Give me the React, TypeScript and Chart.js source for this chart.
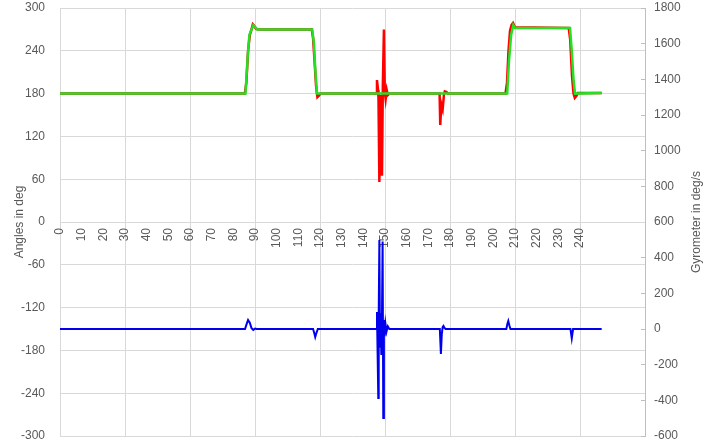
import React, { useEffect, useRef } from "react";
import { Chart, registerables } from "chart.js";

Chart.register(...registerables);

// ---- data ----
const LEFT_TITLE = "Angles in deg";
const RIGHT_TITLE = "Gyrometer in deg/s";

const xMin = 0;
const xMax = 270;
const xLabelStep = 10;
const xLabelLast = 240;
const xGridEvery = 30;

const leftMin = -300;
const leftMax = 300;
const leftStep = 60;
const rightMin = -600;
const rightMax = 1800;
const rightStep = 200;

// Red angle series
const redT = [0, 85.3, 86.0, 86.8, 87.6, 88.4, 89.0, 89.6, 90.4, 91.5, 116.2, 116.8, 117.6, 118.2, 118.8, 119.5, 120.2,
  146.0, 146.3, 146.8, 147.0, 147.4, 147.8, 148.2, 148.6, 149.0, 149.5, 149.9, 150.3, 150.8, 151.3, 152.0,
  175.2, 175.5, 176.0, 176.6, 177.2, 177.6, 178.4, 179.0,
  205.6, 206.3, 207.0, 207.7, 208.4, 209.1, 210.0, 234.8, 235.5, 236.3, 237.0, 237.6, 238.4, 239.0, 250.0];
const redV = [180, 180, 195, 240, 262, 270, 277, 275, 271, 270, 270, 258, 220, 190, 175, 177, 180,
  180, 199, 185, 172, 56, 178, 170, 65, 190, 270, 182, 172, 185, 178, 180,
  180, 136, 165, 158, 178, 183, 182, 180,
  180, 195, 240, 268, 276, 279, 273, 272, 255, 205, 180, 174, 177, 181, 181];

// Green angle series
const greenT = [0, 85.6, 86.6, 87.4, 88.2, 89.2, 90.2, 91.0, 116.4, 117.2, 117.8, 118.6,
  206.4, 207.2, 208.2, 209.2, 210.0, 235.4, 236.2, 237.0, 237.7, 250.0];
const greenV = [180, 180, 230, 262, 268, 276, 273, 270, 270, 250, 215, 180,
  180, 225, 262, 276, 272, 272, 240, 200, 180, 181];

// Blue gyrometer series
const blueT = [0, 85.4, 86.2, 86.8, 87.6, 88.4, 89.2, 90.0, 90.8, 116.8, 117.4, 117.8, 118.4, 119.0,
  146.0, 146.3, 146.6, 146.9, 147.1, 147.4, 147.7, 148.0, 148.3, 148.6, 148.9, 149.2, 149.5, 149.8, 150.2, 150.7, 151.3, 152.0,
  175.3, 175.8, 176.2, 176.6, 177.0, 177.5, 178.0,
  206.0, 206.5, 206.9, 207.4, 207.9, 235.6, 236.2, 236.8, 250.0];
const blueV = [0, 0, 30, 50, 35, 5, -5, 2, 0, 0, -25, -45, -20, 0,
  0, 95, -146, -387, 80, 499, -100, 90, -140, 60, 490, -499, 50, -40, 30, -15, 15, 0,
  0, -140, -30, 10, 17, 5, 0,
  0, 30, 45, 20, 0, 0, -52, 0, 0];

const pts = (t: number[], v: number[]) => t.map((x, i) => ({ x, y: v[i] }));

const FONT = '"Liberation Sans", Arial, sans-serif';
const TEXT = "#595959";
const GRID = "#d9d9d9";

const rightTitlePlugin = {
  id: "rightTitle",
  afterDraw(chart: any) {
    const { ctx, chartArea } = chart;
    ctx.save();
    ctx.translate(chart.width - 9, (chartArea.top + chartArea.bottom) / 2);
    ctx.rotate(-Math.PI / 2);
    ctx.font = `12px ${FONT}`;
    ctx.fillStyle = TEXT;
    ctx.textAlign = "center";
    ctx.textBaseline = "middle";
    ctx.fillText(RIGHT_TITLE, 0, 0);
    ctx.restore();
  },
};

const noPad = (w: number) => (s: any) => {
  s.width = w;
  s.paddingTop = 0;
  s.paddingBottom = 0;
};

export default function App() {
  const ref = useRef<HTMLCanvasElement>(null);
  useEffect(() => {
    if (!ref.current) return;
    const chart = new Chart(ref.current, {
      type: "line",
      data: {
        datasets: [
          { data: pts(greenT, greenV), borderColor: "#22e022", borderWidth: 2.5, pointRadius: 0, yAxisID: "y", order: 0 } as any,
          { data: pts(redT, redV), borderColor: "#ff0000", borderWidth: 2.5, pointRadius: 0, yAxisID: "y", order: 1 } as any,
          { data: pts(blueT, blueV), borderColor: "#0000ee", borderWidth: 2, pointRadius: 0, yAxisID: "y1", order: 2 } as any,
        ],
      },
      options: {
        animation: false,
        responsive: false,
        maintainAspectRatio: false,
        parsing: false as any,
        layout: { padding: { top: 8, bottom: 8, left: 0, right: 0 } },
        plugins: { legend: { display: false }, tooltip: { enabled: false } },
        scales: {
          x: {
            type: "linear",
            position: { y: 0 } as any,
            min: xMin,
            max: xMax,
            afterFit: (s: any) => { s.height = 0; s.paddingTop = 0; s.paddingBottom = 0; },
            grid: {
              drawTicks: false,
              color: (c: any) => (c.tick && c.tick.value % xGridEvery === 0 ? GRID : "rgba(0,0,0,0)"),
            },
            border: { display: true, color: GRID },
            ticks: {
              stepSize: xLabelStep,
              autoSkip: false,
              minRotation: 90,
              maxRotation: 90,
              padding: 6,
              color: TEXT,
              font: { family: FONT, size: 12 },
              callback: (v: any) => (v <= xLabelLast ? String(v) : ""),
            },
          },
          y: {
            type: "linear",
            position: "left",
            min: leftMin,
            max: leftMax,
            afterFit: noPad(60),
            grid: { color: GRID, drawTicks: false },
            border: { display: false },
            ticks: { stepSize: leftStep, padding: 15, color: TEXT, font: { family: FONT, size: 12 }, callback: (v: any) => String(v) },
            title: { display: true, text: LEFT_TITLE, color: TEXT, font: { family: FONT, size: 12 }, padding: { top: 12, bottom: 0 } },
          },
          y1: {
            type: "linear",
            position: "right",
            min: rightMin,
            max: rightMax,
            afterFit: noPad(61),
            grid: { drawOnChartArea: false, drawTicks: true, tickLength: -4, tickColor: "#bfbfbf", color: "#bfbfbf" },
            border: { display: true, color: "#bfbfbf" },
            ticks: { stepSize: rightStep, padding: 13, color: TEXT, font: { family: FONT, size: 12 }, callback: (v: any) => String(v) },
          },
        },
      },
      plugins: [rightTitlePlugin],
    });
    return () => chart.destroy();
  }, []);
  return (
    <div style={{ position: "fixed", left: 0, top: 0, width: 706, height: 444, background: "#fff" }}>
      <canvas ref={ref} width={706} height={444} style={{ width: 706, height: 444, display: "block" }} />
    </div>
  );
}
